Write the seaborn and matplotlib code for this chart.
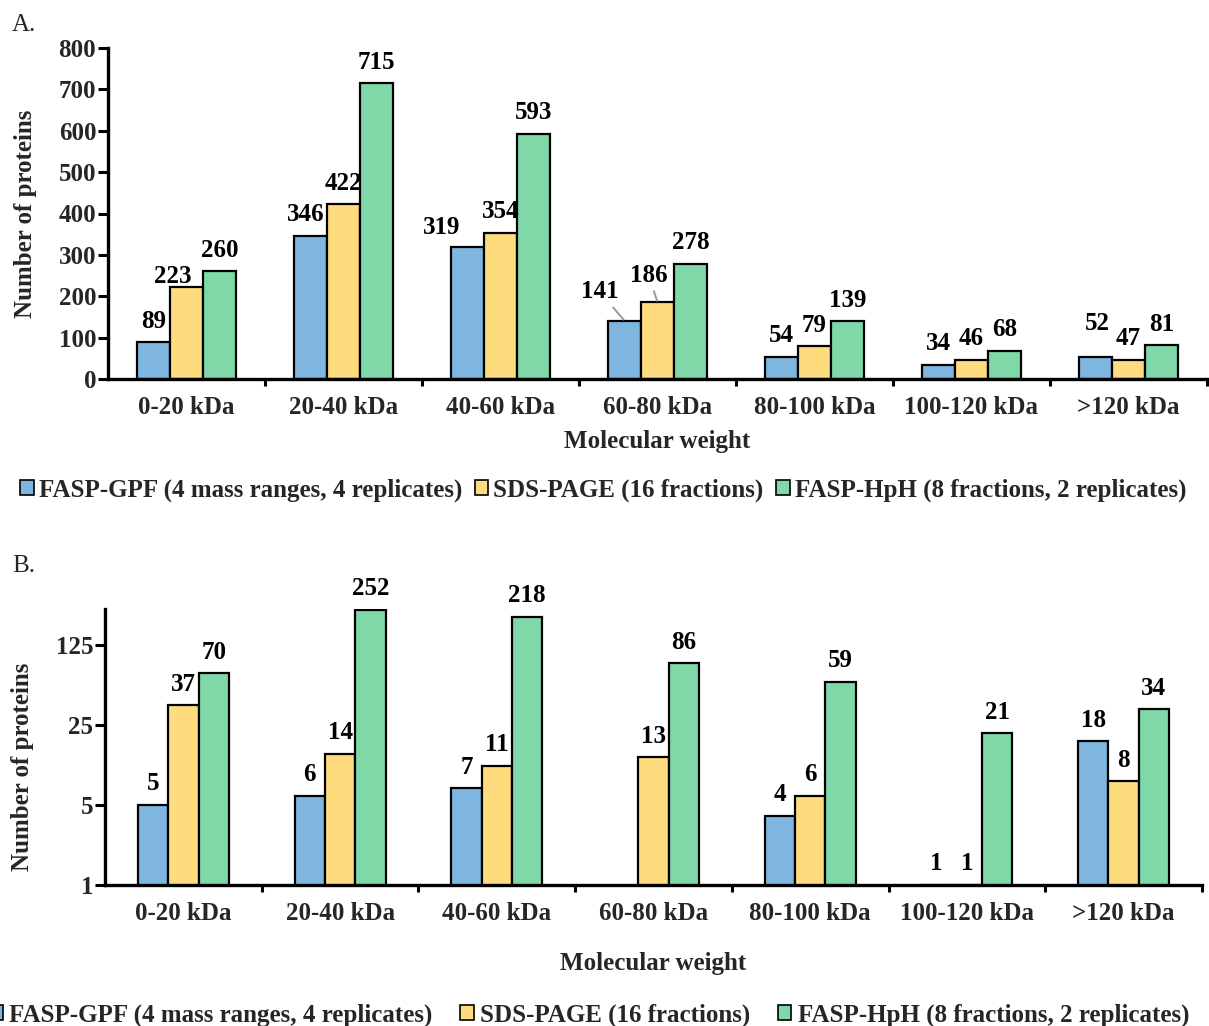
import numpy as np
import pandas as pd
import matplotlib
matplotlib.use("Agg")
import matplotlib.pyplot as plt
from matplotlib.patches import Patch
from matplotlib.ticker import FixedLocator, NullLocator
import seaborn as sns

# ---- data ----
categories = ["0-20 kDa", "20-40 kDa", "40-60 kDa", "60-80 kDa",
              "80-100 kDa", "100-120 kDa", ">120 kDa"]
methods = ["FASP-GPF (4 mass ranges, 4 replicates)",
           "SDS-PAGE (16 fractions)",
           "FASP-HpH (8 fractions, 2 replicates)"]

# Panel A: all identified proteins
a_gpf = [89, 346, 319, 141, 54, 34, 52]
a_sds = [223, 422, 354, 186, 79, 46, 47]
a_hph = [260, 715, 593, 278, 139, 68, 81]

# Panel B: uniquely identified proteins (no GPF protein in 60-80 kDa)
b_gpf = [5, 6, 7, np.nan, 4, 1, 18]
b_sds = [37, 14, 11, 13, 6, 1, 8]
b_hph = [70, 252, 218, 86, 59, 21, 34]

colors = ["#7EB6DF", "#FEDC7E", "#80D7A8"]

sns.set_theme(style="white")
plt.rcParams["font.family"] = ["Liberation Serif", "DejaVu Serif"]
plt.rcParams["font.weight"] = "bold"
plt.rcParams["axes.labelweight"] = "bold"

FS = 18
W, H = 1209, 1026
fig = plt.figure(figsize=(W / 100, H / 100), dpi=100)
PX = 72 / 100  # points per pixel


def fig_rect(left, top, right, bottom):
    return [left / W, 1 - bottom / H, (right - left) / W, (bottom - top) / H]


def make_frame(series):
    rows = []
    for m, vals in zip(methods, series):
        for c, v in zip(categories, vals):
            rows.append({"Molecular weight": c, "Method": m, "Number": v})
    return pd.DataFrame(rows)


def style_axes(ax):
    for s in ["top", "right"]:
        ax.spines[s].set_visible(False)
    for s in ["left", "bottom"]:
        ax.spines[s].set_color("black")
        ax.spines[s].set_linewidth(2.4)
    ax.set_xlim(-0.5, len(categories) - 0.5)
    ax.xaxis.set_minor_locator(FixedLocator(np.arange(0.5, len(categories), 1.0)))
    ax.tick_params(axis="x", which="major", length=0, pad=12, labelsize=FS)
    ax.tick_params(axis="x", which="minor", length=5, width=2.2, color="black",
                   direction="out", bottom=True)
    ax.tick_params(axis="y", which="major", length=7, width=2.2, color="black",
                   direction="out", left=True, labelsize=FS, pad=1.5)
    ax.tick_params(axis="y", which="minor", length=0)
    for lab in ax.get_xticklabels() + ax.get_yticklabels():
        lab.set_fontweight("bold")
    ax.set_xlabel("Molecular weight", fontsize=FS, fontweight="bold", labelpad=8)
    ax.set_ylabel("Number of proteins", fontsize=FS, fontweight="bold")
    ax.yaxis.set_label_coords(-0.065, 0.5)
    ax.grid(False)


def label_bars(ax, series, width, nudges):
    bw = width / len(series)
    for j, vals in enumerate(series):
        for i, v in enumerate(vals):
            if np.isnan(v):
                continue
            x = i + (j - (len(series) - 1) / 2) * bw
            dx, dy, line = nudges.get((j, i), (0, 21, False))
            kw = {}
            if line:
                kw["arrowprops"] = dict(arrowstyle="-", color="#9a9a9a", lw=1.4,
                                        shrinkA=1, shrinkB=1)
            ax.annotate(f"{int(v)}", xy=(x, v), xytext=(dx * PX, dy * PX),
                        textcoords="offset points", ha="center", va="center",
                        fontsize=FS, fontweight="bold", color="black", **kw)


# ---- panel A ----
wA = 0.63
axA = fig.add_axes(fig_rect(108, 48, 1207, 379))
dfA = make_frame([a_gpf, a_sds, a_hph])
sns.barplot(data=dfA, x="Molecular weight", y="Number", hue="Method",
            hue_order=methods, order=categories, palette=colors, width=wA,
            gap=0, edgecolor="black", linewidth=1.6, saturation=1,
            legend=False, ax=axA)
axA.set_ylim(0, 800)
axA.set_yticks(range(0, 801, 100))
style_axes(axA)
nudgesA = {
    (1, 0): (-14, 10, False),
    (0, 1): (-5, 21, False),
    (0, 2): (-26, 20, False),
    (0, 3): (-25, 29, True),
    (1, 3): (-9, 27, True),
    (0, 6): (2, 34, False),
}
label_bars(axA, [a_gpf, a_sds, a_hph], wA, nudgesA)

# ---- panel B (log scale, base 5) ----
wB = 0.58
axB = fig.add_axes(fig_rect(105, 609, 1202, 885))
dfB = make_frame([b_gpf, b_sds, b_hph])
sns.barplot(data=dfB, x="Molecular weight", y="Number", hue="Method",
            hue_order=methods, order=categories, palette=colors, width=wB,
            gap=0, edgecolor="black", linewidth=1.6, saturation=1,
            legend=False, ax=axB)
axB.set_yscale("log", base=5)
axB.set_ylim(1, 255)
axB.yaxis.set_major_locator(FixedLocator([1, 5, 25, 125]))
axB.yaxis.set_minor_locator(NullLocator())
axB.set_yticklabels(["1", "5", "25", "125"])
style_axes(axB)
axB.xaxis.labelpad = 20
axB.yaxis.set_label_coords(-0.065, 0.43)
label_bars(axB, [b_gpf, b_sds, b_hph], wB, {})

# ---- legends ----
handles = [Patch(facecolor=c, edgecolor="black", linewidth=1.2) for c in colors]
fig.legend(handles, methods, loc="center left", bbox_to_anchor=(20 / W, 1 - 490 / H),
           ncol=3, frameon=False, handlelength=0.55, handleheight=0.55,
           handletextpad=0.2, columnspacing=0.5, borderaxespad=0, borderpad=0,
           prop={"weight": "bold", "size": FS})
fig.legend(handles, methods, loc="center right", bbox_to_anchor=(1189 / W, 1 - 1015 / H),
           ncol=3, frameon=False, handlelength=0.55, handleheight=0.55,
           handletextpad=0.25, columnspacing=1.1, borderaxespad=0, borderpad=0,
           prop={"weight": "bold", "size": FS})

# panel letters
fig.text(12 / W, 1 - 25 / H, "A.", fontsize=FS, fontweight="normal", va="center")
fig.text(12 / W, 1 - 566 / H, "B.", fontsize=FS, fontweight="normal", va="center")

fig.savefig("out.png", dpi=100, facecolor="white")
